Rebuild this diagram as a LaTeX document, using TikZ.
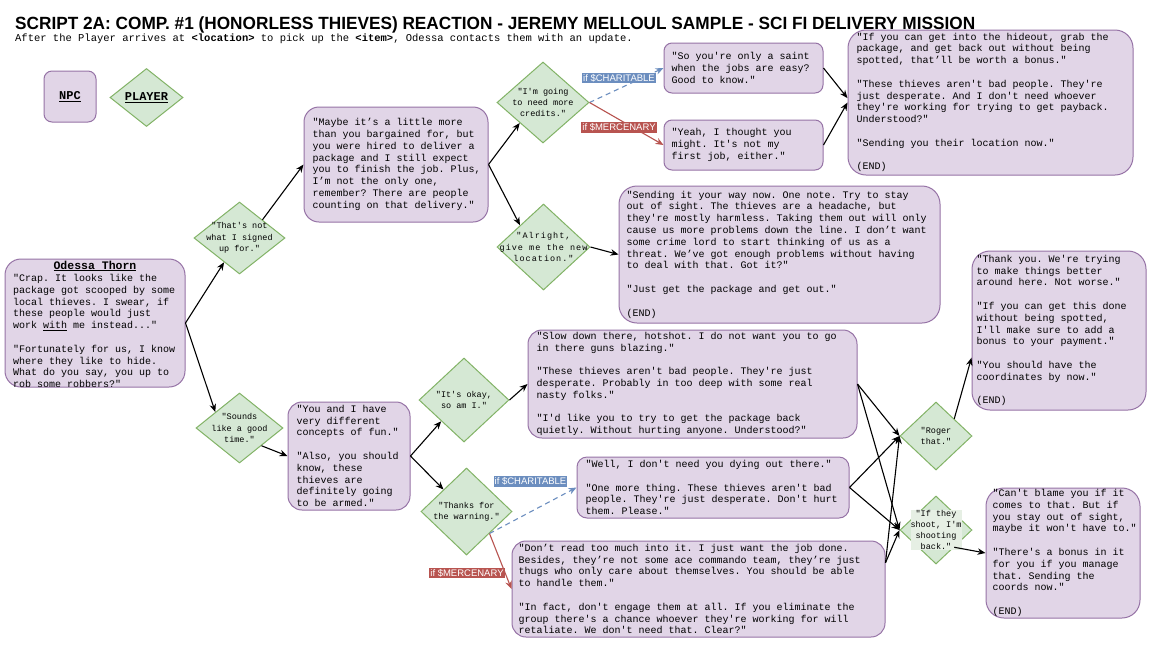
\documentclass[tikz,border=0pt]{standalone}
\usepackage{fontspec}
\usepackage{graphicx}
\setmainfont{Liberation Sans}
\newfontfamily\mono{Liberation Mono}
\newfontfamily\arial{Liberation Sans}
\usetikzlibrary{shapes.geometric,arrows.meta,calc}
\definecolor{npcf}{HTML}{E1D5E7}
\definecolor{npcb}{HTML}{9673A6}
\definecolor{plf}{HTML}{D5E8D4}
\definecolor{plb}{HTML}{82B366}
\definecolor{plhl}{HTML}{E6EFE4}
\definecolor{cblue}{HTML}{6C8EBF}
\definecolor{cred}{HTML}{B85450}
\frenchspacing
\newcommand\bl{\\ \mbox{}\\}
\tikzset{
  npc/.style={draw=npcb, fill=npcf, line width=1pt, inner sep=0pt},
  npctext/.style={inner sep=0pt, align=left, anchor=west, font=\mono\fontsize{10}{11.8}\selectfont},
  pl/.style={diamond, draw=plb, fill=plf, line width=1pt, inner sep=0pt},
  pltext/.style={inner sep=0pt, align=center, font=\mono\fontsize{8.5}{11.3}\selectfont},
  tip/.style={-{Stealth[length=8pt,width=6.5pt]}},
  arr/.style={tip, draw=black, line width=1.1pt},
  charit/.style={tip, draw=cblue, line width=1.1pt, dash pattern=on 5pt off 4pt},
  merc/.style={tip, draw=cred, line width=1.1pt},
  lbl/.style={text=white, inner xsep=1pt, inner ysep=1.2pt, font=\arial\fontsize{9.5}{10}\selectfont},
}
\begin{document}
\begin{tikzpicture}[x=1pt,y=-1pt]
\fill[white] (0,0) rectangle (1152,649);
\path[use as bounding box] (0,0) rectangle (1152,649);

% title
\node[anchor=base west, inner sep=0pt] (title) at (15,29)
  {\resizebox{960pt}{12.8pt}{\arial\bfseries SCRIPT 2A: COMP. \#1 (HONORLESS THIEVES) REACTION - JEREMY MELLOUL SAMPLE - SCI FI DELIVERY MISSION}};
\node[anchor=base west, inner sep=0pt] (sub) at (15,41.3)
  {\mono\fontsize{10.5}{12}\selectfont After the Player arrives at \textbf{<location>} to pick up the \textbf{<item>}, Odessa contacts them with an update.};

% legend
\node[npc, minimum width=52, minimum height=51, rounded corners=8] (legnpc) at (70,96.5) {};
\node[pltext, font=\mono\fontsize{12}{14}\selectfont] (legnpct) at (legnpc) {\textbf{\underline{NPC}}};
\node[pl, minimum width=73, minimum height=58] (legpl) at (146.5,97.5) {};
\node[pltext, font=\mono\fontsize{12}{14}\selectfont] (legplt) at (legpl) {\textbf{\underline{PLAYER}}};

% NPC boxes
\node[npc, minimum width=180, minimum height=128, rounded corners=16] (odessa) at (95,323) {};
\node[pltext, font=\mono\bfseries\fontsize{11.5}{12}\selectfont] (odessaname) at (95,266) {\underline{Odessa Thorn}};
\node[npctext, anchor=north west] (odessat) at (13,274)
  {"Crap. It looks like the\\
  package got scooped by some\\
  local thieves. I swear, if\\
  these people would just\\
  work \underline{with} me instead..."\bl
  "Fortunately for us, I know\\
  where they like to hide.\\
  What do you say, you up to\\
  rob some robbers?"};

\node[npc, minimum width=184, minimum height=115, rounded corners=15] (maybe) at (396,164.5) {};
\node[npctext] (maybet) at ([xshift=9pt]maybe.west)
  {"Maybe it’s a little more\\
  than you bargained for, but\\
  you were hired to deliver a\\
  package and I still expect\\
  you to finish the job. Plus,\\
  I’m not the only one,\\
  remember? There are people\\
  counting on that delivery."};

\node[npc, minimum width=159, minimum height=50, rounded corners=8] (saint) at (743.5,68) {};
\node[npctext] (saintt) at ([xshift=8pt]saint.west)
  {"So you're only a saint\\
  when the jobs are easy?\\
  Good to know."};

\node[npc, minimum width=159, minimum height=50, rounded corners=8] (yeah) at (743.5,145) {};
\node[npctext] (yeaht) at ([xshift=8pt]yeah.west)
  {"Yeah, I thought you\\
  might. It's not my\\
  first job, either."};

\node[npc, minimum width=285, minimum height=145, rounded corners=18] (ifyou) at (990.5,102.5) {};
\node[npctext] (ifyout) at ([xshift=9pt]ifyou.west)
  {"If you can get into the hideout, grab the\\
  package, and get back out without being\\
  spotted, that’ll be worth a bonus."\bl
  "These thieves aren't bad people. They're\\
  just desperate. And I don't need whoever\\
  they're working for trying to get payback.\\
  Understood?"\bl
  "Sending you their location now."\bl
  (END)};

\node[npc, minimum width=321, minimum height=137, rounded corners=18] (sending) at (779.5,254.5) {};
\node[npctext] (sendingt) at ([xshift=8pt]sending.west)
  {"Sending it your way now. One note. Try to stay\\
  out of sight. The thieves are a headache, but\\
  they're mostly harmless. Taking them out will only\\
  cause us more problems down the line. I don’t want\\
  some crime lord to start thinking of us as a\\
  threat. We’ve got enough problems without having\\
  to deal with that. Got it?"\bl
  "Just get the package and get out."\bl
  (END)};

\node[npc, minimum width=174, minimum height=159, rounded corners=18] (thanky) at (1059,330.5) {};
\node[npctext] (thankyt) at ([xshift=5pt]thanky.west)
  {"Thank you. We're trying\\
  to make things better\\
  around here. Not worse."\bl
  "If you can get this done\\
  without being spotted,\\
  I'll make sure to add a\\
  bonus to your payment."\bl
  "You should have the\\
  coordinates by now."\bl
  (END)};

\node[npc, minimum width=122, minimum height=108, rounded corners=14] (youandi) at (349,456) {};
\node[npctext] (youandit) at ([xshift=9pt]youandi.west)
  {"You and I have\\
  very different\\
  concepts of fun."\bl
  "Also, you should\\
  know, these\\
  thieves are\\
  definitely going\\
  to be armed."};

\node[npc, minimum width=329, minimum height=108, rounded corners=14] (slow) at (692.5,384) {};
\node[npctext] (slowt) at ([xshift=9pt]slow.west)
  {"Slow down there, hotshot. I do not want you to go\\
  in there guns blazing."\bl
  "These thieves aren't bad people. They're just\\
  desperate. Probably in too deep with some real\\
  nasty folks."\bl
  "I'd like you to try to get the package back\\
  quietly. Without hurting anyone. Understood?"};

\node[npc, minimum width=272, minimum height=61, rounded corners=10] (well) at (713,487.5) {};
\node[npctext] (wellt) at ([xshift=9pt]well.west)
  {"Well, I don't need you dying out there."\bl
  "One more thing. These thieves aren't bad\\
  people. They're just desperate. Don't hurt\\
  them. Please."};

\node[npc, minimum width=373, minimum height=96, rounded corners=14] (dontread) at (698.5,589) {};
\node[npctext] (dontreadt) at ([xshift=7pt]dontread.west)
  {"Don’t read too much into it. I just want the job done.\\
  Besides, they’re not some ace commando team, they’re just\\
  thugs who only care about themselves. You should be able\\
  to handle them."\bl
  "In fact, don't engage them at all. If you eliminate the\\
  group there's a chance whoever they're working for will\\
  retaliate. We don't need that. Clear?"};

\node[npc, minimum width=154, minimum height=130, rounded corners=18] (cantb) at (1063,553) {};
\node[npctext] (cantbt) at ([xshift=7pt]cantb.west)
  {"Can't blame you if it\\
  comes to that. But if\\
  you stay out of sight,\\
  maybe it won't have to."\bl
  "There's a bonus in it\\
  for you if you manage\\
  that. Sending the\\
  coords now."\bl
  (END)};

% player diamonds
\node[pl, minimum width=91, minimum height=72] (d1) at (239.5,238) {};
\node[pltext] (d1t) at (d1) {"That's not\\what I signed\\up for."};
\node[pl, minimum width=87, minimum height=70] (d2) at (239.5,428) {};
\node[pltext] (d2t) at (d2) {"Sounds\\like a good\\time."};
\node[pl, minimum width=92, minimum height=81] (d3) at (543,102.5) {};
\node[pltext] (d3t) at (d3) {"I'm going\\to need more\\credits."};
\node[pl, minimum width=93, minimum height=86] (d4) at (543.5,247) {};
\node[pltext, font=\mono\fontsize{8.5}{11.3}\selectfont\addfontfeature{LetterSpace=12}] (d4t) at (d4) {"Alright,\\give me the new\\location."};
\node[pl, minimum width=90, minimum height=84] (d5) at (464,400) {};
\node[pltext] (d5t) at (d5) {"It's okay,\\so am I."};
\node[pl, minimum width=91, minimum height=87] (d6) at (466.5,511.5) {};
\node[pltext] (d6t) at (d6) {"Thanks for\\the warning."};
\node[pl, minimum width=72, minimum height=68] (d7) at (936,436) {};
\node[pltext] (d7t) at (d7) {"Roger\\that."};
\node[pl, minimum width=72, minimum height=68] (d8) at (936,530) {};
\node[pltext, fill=plhl, font=\mono\fontsize{8.5}{11.1}\selectfont] (d8t) at (d8) {"If they\\shoot, I'm\\shooting\\back."};

% connectors
\draw[arr] (odessa.east) -- (d1);
\draw[arr] (odessa.east) -- ($(d2.west)!0.45!(d2.north)$);
\draw[arr] ($(d1.north)!0.5!(d1.east)$) -- (maybe.west);
\draw[arr] (maybe.east) -- ($(d3.west)!0.5!(d3.south)$);
\draw[arr] (maybe.east) -- ($(d4.west)!0.5!(d4.north)$);
\draw[charit] (d3.east) -- (saint.west);
\draw[merc] (d3.east) -- (yeah.west);
\draw[arr] (saint.east) -- ($(ifyou.north west)!0.47!(ifyou.south west)$);
\draw[arr] (yeah.east) -- ($(ifyou.north west)!0.5!(ifyou.south west)$);
\draw[arr] (d4.east) -- (sending.west);
\draw[arr] ($(d2.south)!0.5!(d2.east)$) -- (youandi.west);
\draw[arr] (youandi.east) -- ($(d5.west)!0.5!(d5.south)$);
\draw[arr] (youandi.east) -- ($(d6.west)!0.5!(d6.north)$);
\draw[arr] (d5.east) -- (slow.west);
\draw[charit] ($(d6.south)!0.5!(d6.east)$) -- (well.west);
\draw[merc] ($(d6.south)!0.5!(d6.east)$) -- (dontread.west);
\draw[arr] (slow.east) -- (d7.west);
\draw[arr] (slow.east) -- (d8.west);
\draw[arr] (well.east) -- (d7.west);
\draw[arr] (well.east) -- (d8.west);
\coordinate (drout) at ($(dontread.north east)!0.23!(dontread.south east)$);
\draw[arr] (drout) -- (d7.west);
\draw[arr] (drout) -- (d8.west);
\draw[arr] ($(d7.north)!0.5!(d7.east)$) -- ($(thanky.north west)!0.67!(thanky.south west)$);
\draw[arr] ($(d8.south)!0.5!(d8.east)$) -- (cantb.west);

% condition labels
\node[lbl, fill=cblue] (lc1) at (619,78) {if \$CHARITABLE};
\node[lbl, fill=cred] (lm1) at (619,127.5) {if \$MERCENARY};
\node[lbl, fill=cblue] (lc2) at (530.5,481.5) {if \$CHARITABLE};
\node[lbl, fill=cred] (lm2) at (467,573) {if \$MERCENARY};
\end{tikzpicture}
\end{document}
